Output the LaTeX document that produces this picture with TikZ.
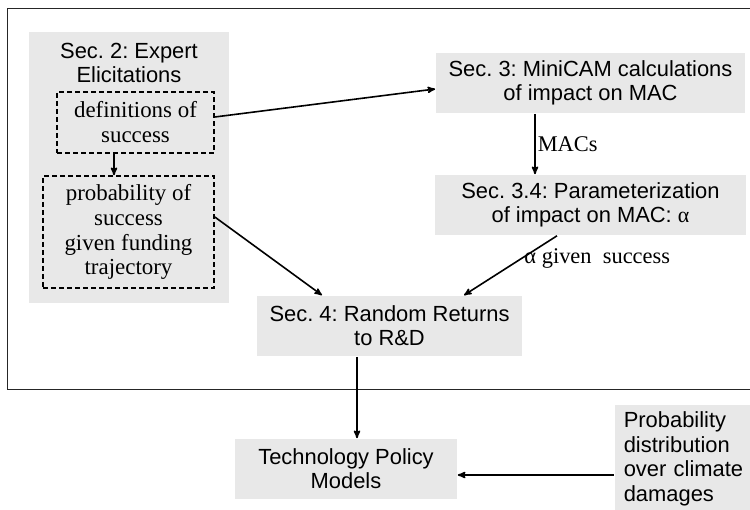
\documentclass[tikz,border=0pt]{standalone}
\usepackage{fontspec}
\setmainfont{Liberation Serif}
\setsansfont{Liberation Sans}
\usepackage{tikz}
\usetikzlibrary{arrows,positioning}
\definecolor{boxgray}{RGB}{232,232,232}
\frenchspacing

\begin{document}
\begin{tikzpicture}[
	x = 1bp, y = -1bp,
    line width = 1.6bp,
        >=stealth',
    secbox/.style = {
      fill = boxgray,
      inner sep = 0pt,
      align = center,
      font = \fontsize{22}{24}\selectfont\sffamily},
    elicit/.style = {
      draw,
      dash pattern = on 5bp off 3bp,
      fill = boxgray,
      inner sep = 0pt,
      align = center,
      font = \fontsize{23}{25}\selectfont\rmfamily},
    edgelab/.style = {
      inner sep = 2bp,
      font = \fontsize{22.5}{25}\selectfont\rmfamily}
      ]
  \useasboundingbox (0,0) rectangle (750,510);

  % Open frame round the model chain
  \draw[line width = 1bp, draw = black!85] (751,9) -- (7,9) -- (7,389) -- (751,389);

  % Expert elicitation block with its two parts
  \node[secbox, minimum width = 200bp, minimum height = 271bp,
        label = {[secbox, fill = none, anchor = north, yshift = -11bp]north:Sec. 2: Expert\\Elicitations}]
        (sec2) at (129,167.5) {};
  \node[elicit, minimum width = 157bp, minimum height = 61bp] (defs) at (135.5,122.5)
        {definitions of\\success};
  \node[elicit, minimum width = 171bp, minimum height = 112bp] (prob) at (128.5,232)
        {probability of\\success\\given funding\\trajectory};

  % MiniCAM and the fitted parameter
  \node[secbox, minimum width = 309bp, minimum height = 60bp] (sec3) at (590.5,83)
        {Sec. 3: MiniCAM calculations\\of impact on MAC};
  \node[secbox, minimum width = 311bp, minimum height = 60bp] (sec34) at (590.5,205)
        {Sec. 3.4: Parameterization\\of impact on MAC: {\rmfamily α}};

  % Returns and the policy models
  \node[secbox, minimum width = 265bp, minimum height = 60bp] (sec4) at (389.5,326)
        {Sec. 4: Random Returns\\to R\&D};
  \node[secbox, minimum width = 222bp, minimum height = 60bp] (tech) at (346,469)
        {Technology Policy\\Models};
  \node[secbox, anchor = north west, minimum width = 136bp, minimum height = 108bp,
        text width = 127bp, inner xsep = 9bp, align = left,
        font = \fontsize{22}{25}\selectfont\sffamily] (damage) at (614,404)
        {Probability\\distribution\\over climate\\damages};

  % Arrows
  \draw[->] ([yshift = 5.5bp]defs.east) -- ([yshift = -6bp]sec3.west);
  \draw[->] ([xshift = -21.5bp]defs.south) -- ([xshift = -21.5bp]defs.south |- prob.north);
  \draw[->] ([xshift = -55.5bp]sec3.south) -- node[edgelab, right] {MACs} ([xshift = -55.5bp]sec3.south |- sec34.north);
  \draw[->] ([yshift = 15bp]prob.east) -- ([xshift = -67.5bp]sec4.north);
  \draw[->] ([xshift = -33.5bp]sec34.south) -- node[edgelab, pos = 0.38, right] {α given~ success} ([xshift = 74.5bp]sec4.north);
  \draw[->] ([xshift = -32.5bp]sec4.south) -- ([xshift = -32.5bp]sec4.south |- tech.north);
  \draw[<-] ([yshift = -6bp]tech.east) -- ([yshift = -6bp]tech.east -| damage.west);

\end{tikzpicture}
\end{document}
